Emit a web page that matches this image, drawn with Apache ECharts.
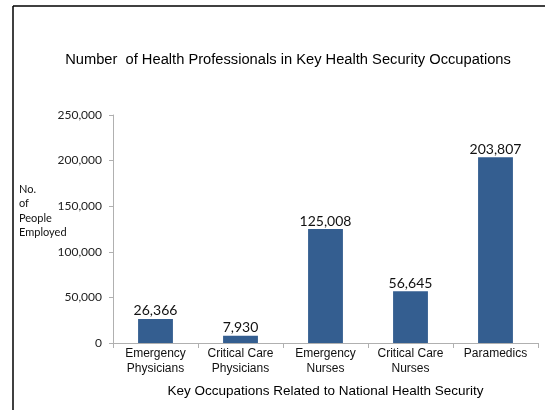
<!DOCTYPE html>
<html>
<head>
<meta charset="utf-8">
<script src="https://cdn.jsdelivr.net/npm/echarts@6/dist/echarts.min.js"></script>
<style>
html,body{margin:0;padding:0;background:#fff;}
#c{width:545px;height:410px;}
</style>
</head>
<body>
<div id="c"></div>
<script>
var categories = ['Emergency\nPhysicians', 'Critical Care\nPhysicians', 'Emergency\nNurses', 'Critical Care\nNurses', 'Paramedics'];
var values = [26366, 7930, 125008, 56645, 203807];
var yTicks = [0, 50000, 100000, 150000, 200000, 250000];

function fmt(v){ return v.toString().replace(/\B(?=(\d{3})+(?!\d))/g, ','); }

var chart = echarts.init(document.getElementById('c'), null, {renderer:'canvas'});
chart.setOption({
  animation: false,
  backgroundColor: '#ffffff',
  title: {
    text: 'Number  of Health Professionals in Key Health Security Occupations',
    left: 283, top: 47, textAlign: 'center',
    textStyle: {fontFamily: 'Liberation Sans', fontSize: 14.7, fontWeight: 'normal', color: '#000'}
  },
  graphic: [
    {type:'line', shape:{x1:13, y1:6, x2:545, y2:6}, style:{stroke:'#000', lineWidth:1.5}},
    {type:'line', shape:{x1:13, y1:6, x2:13, y2:410}, style:{stroke:'#000', lineWidth:1.5}},
    {type:'text', left:19, top:182, style:{text:'No.\nof\nPeople\nEmployed', fontFamily:'Lato', fontSize:11, lineHeight:14.5, fill:'#111'}}
  ],
  grid: {left: 113, right: 7, top: 115, bottom: 67},
  xAxis: {
    type: 'category',
    data: categories,
    name: 'Key Occupations Related to National Health Security',
    nameLocation: 'middle',
    nameGap: 41,
    nameTextStyle: {fontFamily: 'Liberation Sans', fontSize: 13.5, color: '#000'},
    axisLine: {lineStyle: {color: '#b0b0b0'}},
    axisTick: {show: true, interval: 0, length: 5, lineStyle: {color: '#b0b0b0'}},
    axisLabel: {interval: 0, fontFamily: 'Liberation Sans', fontSize: 12, color: '#111', lineHeight: 15, margin: 3}
  },
  yAxis: {
    type: 'value',
    min: 0, max: 250000, interval: 50000,
    axisLine: {show: true, lineStyle: {color: '#b0b0b0'}},
    axisTick: {show: true, length: 4, lineStyle: {color: '#b0b0b0'}},
    splitLine: {show: false},
    axisLabel: {fontFamily: 'Lato', fontSize: 12, color: '#222', margin: 11, formatter: function(v){ return yTicks.indexOf(v) >= 0 ? fmt(v) : ''; }}
  },
  series: [{
    type: 'bar',
    data: values,
    barWidth: '41%',
    itemStyle: {color: '#345E90'},
    label: {show: true, position: 'top', distance: 1, fontFamily: 'Lato', fontSize: 14, color: '#111', formatter: function(p){ return fmt(p.value); }}
  }]
});
</script>
</body>
</html>
